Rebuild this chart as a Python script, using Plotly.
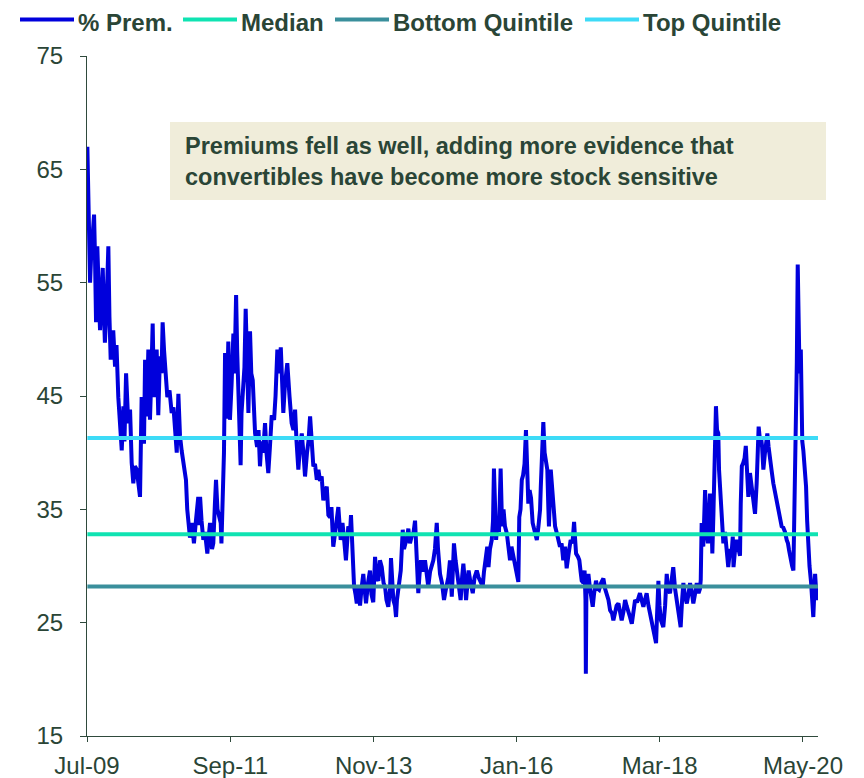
import plotly.graph_objects as go

# ---------------- data ----------------
dates = [
"2009-07-03","2009-07-07","2009-07-12","2009-07-18","2009-07-23","2009-07-31","2009-08-09","2009-08-14","2009-08-20","2009-08-27",
"2009-09-03","2009-09-11","2009-09-19","2009-09-26","2009-10-03","2009-10-08","2009-10-17","2009-10-27","2009-11-02","2009-11-09",
"2009-11-16","2009-11-23","2009-12-03","2009-12-11","2009-12-21","2009-12-30","2010-01-09","2010-01-18","2010-01-24","2010-02-02",
"2010-02-08","2010-02-14","2010-02-24","2010-03-05","2010-03-14","2010-03-23","2010-04-02","2010-04-12","2010-04-20","2010-04-29",
"2010-05-07","2010-05-12","2010-05-18","2010-05-27","2010-06-05","2010-06-14","2010-06-22","2010-06-29","2010-07-06","2010-07-15",
"2010-07-21","2010-07-30","2010-08-08","2010-08-17","2010-08-23","2010-08-31","2010-09-05","2010-09-18","2010-09-30","2010-10-12",
"2010-10-22","2010-10-30","2010-11-09","2010-11-18","2010-11-27","2010-12-06","2010-12-16","2010-12-30","2011-01-06","2011-01-12",
"2011-01-21","2011-02-01","2011-02-12","2011-02-23","2011-03-08","2011-03-12","2011-03-18","2011-03-26","2011-04-05","2011-04-14",
"2011-04-27","2011-05-04","2011-05-12","2011-05-23","2011-05-30","2011-06-08","2011-06-14","2011-06-22","2011-07-01","2011-07-10",
"2011-07-14","2011-07-21","2011-07-28","2011-08-03","2011-08-11","2011-08-21","2011-08-30","2011-09-08","2011-09-18","2011-09-24",
"2011-10-03","2011-10-09","2011-10-15","2011-10-22","2011-10-28","2011-11-02","2011-11-10","2011-11-18","2011-11-25","2011-12-02",
"2011-12-10","2011-12-19","2011-12-26","2012-01-03","2012-01-10","2012-01-16","2012-01-27","2012-02-04","2012-02-12","2012-02-20",
"2012-02-29","2012-03-11","2012-03-19","2012-03-29","2012-04-07","2012-04-17","2012-04-30","2012-05-08","2012-05-18","2012-05-27",
"2012-06-06","2012-06-13","2012-06-20","2012-06-29","2012-07-12","2012-07-24","2012-08-05","2012-08-15","2012-08-24","2012-09-01",
"2012-09-11","2012-09-20","2012-09-30","2012-10-09","2012-10-18","2012-10-29","2012-11-06","2012-11-15","2012-11-23","2012-12-03",
"2012-12-12","2012-12-22","2012-12-31","2013-01-09","2013-01-18","2013-01-27","2013-02-05","2013-02-15","2013-02-24","2013-03-05",
"2013-03-13","2013-03-23","2013-04-02","2013-04-13","2013-04-20","2013-05-03","2013-05-13","2013-05-21","2013-06-01","2013-06-14",
"2013-06-24","2013-06-29","2013-07-07","2013-07-16","2013-07-24","2013-07-31","2013-08-08","2013-08-18","2013-08-26","2013-09-05",
"2013-09-12","2013-09-20","2013-10-01","2013-10-12","2013-10-20","2013-10-30","2013-11-09","2013-11-17","2013-11-27","2013-12-06",
"2013-12-16","2013-12-26","2014-01-03","2014-01-11","2014-01-21","2014-01-31","2014-02-05","2014-02-12","2014-02-18","2014-02-27",
"2014-03-05","2014-03-10","2014-03-18","2014-03-31","2014-04-11","2014-04-18","2014-04-26","2014-05-05","2014-05-12","2014-05-21",
"2014-05-30","2014-06-10","2014-06-18","2014-06-27","2014-07-06","2014-07-13","2014-07-21","2014-08-01","2014-08-12","2014-08-20",
"2014-08-30","2014-09-09","2014-09-17","2014-09-27","2014-10-06","2014-10-16","2014-10-23","2014-11-03","2014-11-14","2014-11-25",
"2014-12-06","2014-12-19","2014-12-28","2015-01-07","2015-01-14","2015-01-19","2015-01-28","2015-02-03","2015-02-13","2015-02-25",
"2015-03-05","2015-03-12","2015-03-21","2015-03-27","2015-04-04","2015-04-10","2015-04-21","2015-05-03","2015-05-13","2015-05-25",
"2015-06-04","2015-06-15","2015-06-27","2015-07-04","2015-07-10","2015-07-22","2015-07-29","2015-08-06","2015-08-16","2015-08-23",
"2015-08-28","2015-09-03","2015-09-09","2015-09-17","2015-09-25","2015-10-04","2015-10-12","2015-10-20","2015-10-28","2015-11-07",
"2015-11-17","2015-11-25","2015-12-03","2015-12-11","2015-12-23","2015-12-31","2016-01-10","2016-01-15","2016-01-22","2016-01-29",
"2016-02-05","2016-02-13","2016-02-21","2016-02-27","2016-03-05","2016-03-12","2016-03-20","2016-03-29","2016-04-08","2016-04-21",
"2016-04-30","2016-05-09","2016-05-13","2016-05-20","2016-05-27","2016-06-03","2016-06-08","2016-06-18","2016-06-24","2016-06-27",
"2016-07-07","2016-07-14","2016-07-22","2016-07-31","2016-08-08","2016-08-16","2016-08-27","2016-09-05","2016-09-14","2016-09-24",
"2016-10-03","2016-10-13","2016-10-25","2016-11-04","2016-11-13","2016-11-18","2016-11-24","2016-12-05","2016-12-12","2016-12-19",
"2016-12-25","2017-01-04","2017-01-10","2017-01-15","2017-01-17","2017-01-20","2017-01-24","2017-01-31","2017-02-09","2017-02-17",
"2017-02-24","2017-03-03","2017-03-14","2017-03-23","2017-03-31","2017-04-11","2017-04-24","2017-05-03","2017-05-12","2017-05-22",
"2017-05-31","2017-06-11","2017-06-18","2017-06-27","2017-07-06","2017-07-16","2017-07-25","2017-08-03","2017-08-13","2017-08-22",
"2017-08-30","2017-09-09","2017-09-18","2017-09-28","2017-10-08","2017-10-16","2017-10-27","2017-11-07","2017-11-12","2017-11-21",
"2017-12-01","2017-12-10","2017-12-19","2017-12-29","2018-01-07","2018-01-15","2018-01-25","2018-02-01","2018-02-09","2018-02-14",
"2018-02-22","2018-02-28","2018-03-08","2018-03-21","2018-03-31","2018-04-09","2018-04-16","2018-04-27","2018-05-06","2018-05-15",
"2018-05-25","2018-06-03","2018-06-13","2018-06-25","2018-07-03","2018-07-10","2018-07-19","2018-07-29","2018-08-07","2018-08-16",
"2018-08-27","2018-09-03","2018-09-12","2018-09-22","2018-10-02","2018-10-10","2018-10-14","2018-10-19","2018-10-28","2018-11-07",
"2018-11-15","2018-11-23","2018-11-29","2018-12-04","2018-12-13","2018-12-17","2018-12-23","2018-12-29","2019-01-06","2019-01-12",
"2019-01-19","2019-01-23","2019-01-29","2019-02-07","2019-02-11","2019-02-16","2019-02-25","2019-03-07","2019-03-15","2019-03-25",
"2019-04-02","2019-04-09","2019-04-13","2019-04-22","2019-05-01","2019-05-11","2019-05-19","2019-05-23","2019-05-29","2019-06-06",
"2019-06-13","2019-06-20","2019-06-27","2019-07-04","2019-07-13","2019-07-22","2019-07-28","2019-08-04","2019-08-10","2019-08-19",
"2019-08-24","2019-08-30","2019-09-07","2019-09-12","2019-09-18","2019-09-25","2019-10-04","2019-10-17","2019-10-24","2019-11-01",
"2019-11-09","2019-11-19","2019-11-29","2019-12-08","2019-12-17","2019-12-26","2020-01-04","2020-01-13","2020-01-23","2020-02-01",
"2020-02-08","2020-02-14","2020-02-22","2020-03-02","2020-03-09","2020-03-13","2020-03-18","2020-03-24","2020-03-28","2020-04-02",
"2020-04-06","2020-04-12","2020-04-19","2020-04-23","2020-04-27","2020-05-03","2020-05-10","2020-05-18","2020-05-24","2020-05-31",
"2020-06-06","2020-06-15","2020-06-20","2020-06-27","2020-07-01","2020-07-07","2020-07-12","2020-07-19","2020-07-23",
]

premium = [
67.0,62.0,58.5,55.0,57.0,58.8,61.0,57.5,51.5,58.2,
54.0,50.8,53.5,56.3,52.0,49.7,53.0,58.2,52.0,48.2,
50.0,50.8,47.6,49.5,44.9,42.5,40.2,44.1,41.0,47.0,
44.5,42.6,43.8,39.1,37.3,38.8,38.5,37.0,36.1,44.9,
42.0,40.8,48.2,43.2,49.1,42.9,47.0,51.4,44.9,47.5,
49.1,43.3,48.5,47.0,51.5,49.0,47.9,44.9,45.5,43.5,
44.0,42.0,40.0,45.2,41.5,40.2,39.0,37.6,35.0,33.8,
32.5,33.8,32.0,34.0,36.1,33.6,36.1,34.0,32.3,33.0,
31.1,32.5,33.8,31.5,32.0,35.5,37.6,35.0,34.5,33.8,
32.0,36.4,40.0,48.8,43.0,49.8,42.9,46.0,50.5,47.0,
53.9,49.0,45.5,43.0,38.9,43.5,45.5,47.5,52.7,47.5,
43.5,50.7,47.0,46.4,43.0,41.7,40.5,42.0,38.8,41.0,
40.0,42.6,40.0,38.2,40.5,43.3,42.9,45.0,49.1,47.0,
49.3,46.0,43.5,46.0,47.9,45.0,42.6,42.0,43.8,41.0,
38.5,40.5,41.7,40.0,37.9,40.0,41.0,43.2,40.5,38.8,
39.0,37.6,38.5,37.5,37.9,35.8,36.5,37.0,34.5,34.3,
35.2,31.7,32.9,34.0,35.2,32.3,33.8,32.5,30.5,33.5,
33.0,34.5,31.7,28.2,27.5,26.7,28.2,26.5,28.0,29.3,
28.0,26.7,28.5,29.6,27.5,26.8,30.8,29.0,28.7,30.5,
29.9,28.5,28.2,27.0,26.4,28.0,30.7,28.5,27.0,26.5,
25.5,27.0,28.2,29.6,33.2,31.5,32.0,32.5,33.3,32.0,
32.6,33.0,34.0,30.8,27.6,29.3,30.5,29.5,30.5,29.5,
28.2,29.5,30.0,30.5,31.5,33.8,31.5,29.3,28.5,27.0,
28.0,29.0,30.5,27.3,30.0,32.0,30.5,29.6,28.5,27.0,
29.0,30.2,28.5,27.0,28.5,29.6,28.5,27.6,29.0,29.6,
29.0,28.5,28.2,29.5,30.2,31.7,29.9,31.5,32.3,34.0,
38.6,35.5,32.3,34.0,33.0,38.6,33.5,35.0,33.5,32.9,
31.5,30.5,31.7,31.0,29.9,29.5,28.6,34.3,35.0,37.6,
38.0,39.0,42.0,39.0,35.5,36.7,36.0,33.8,33.0,32.3,
33.5,35.0,37.0,40.0,42.7,40.0,39.5,38.5,35.0,33.5,
38.5,37.0,35.0,33.5,33.0,32.5,31.7,32.0,30.5,31.7,
29.8,31.0,32.3,32.0,33.9,32.5,31.1,30.8,30.5,29.5,
28.7,28.5,29.6,27.0,20.5,27.5,28.2,29.3,28.0,27.0,
26.4,27.5,28.7,28.0,27.9,28.5,28.9,28.0,27.6,27.0,
26.1,25.8,25.2,26.0,26.5,26.7,26.0,25.2,26.0,27.0,
26.5,25.8,25.5,24.9,26.0,27.0,26.8,27.3,27.6,27.0,
26.4,27.0,27.6,26.5,25.8,25.0,24.6,24.0,23.2,25.5,
28.7,26.5,25.2,24.6,26.5,29.3,28.0,27.6,28.5,29.9,
28.0,27.0,26.0,24.6,27.0,28.5,27.3,26.7,27.5,28.5,
27.5,26.7,27.5,28.5,27.6,28.0,28.8,33.8,31.7,36.7,
33.0,32.0,34.5,36.4,33.5,31.1,34.6,38.0,44.1,42.0,
41.7,38.5,36.7,35.5,34.0,32.0,33.0,31.4,29.9,31.5,
31.0,32.6,29.9,31.5,32.3,31.5,30.9,35.5,38.8,39.1,
39.5,40.6,38.0,36.1,38.2,37.0,35.8,35.0,34.6,37.3,
40.0,42.3,41.0,41.4,40.5,38.5,40.0,41.7,40.5,39.1,
38.5,37.3,36.5,35.5,35.0,34.3,33.5,33.4,33.0,32.3,
32.0,31.4,30.5,30.0,29.6,33.4,37.3,41.4,48.0,56.6,
52.0,47.0,49.1,44.0,41.0,40.2,38.5,37.0,34.0,31.4,
30.0,28.5,27.0,25.5,27.0,29.3,28.0,27.0,27.8,
]

median_level = 32.8
bottom_quintile_level = 28.2
top_quintile_level = 41.3

series_names = ["% Prem.", "Median", "Bottom Quintile", "Top Quintile"]
series_colors = ["#0000DC", "#0FE3B2", "#3A8F9C", "#3DDBF7"]

x_range = ["2009-07-01", "2020-07-23"]
x_tick_dates = ["2009-07-01", "2011-09-01", "2013-11-01", "2016-01-01", "2018-03-01", "2020-05-01"]
x_tick_labels = ["Jul-09", "Sep-11", "Nov-13", "Jan-16", "Mar-18", "May-20"]
y_ticks = [15, 25, 35, 45, 55, 65, 75]

note_text = ("Premiums fell as well, adding more evidence that<br>"
             "convertibles have become more stock sensitive")

# ---------------- layout geometry (pixels of the figure) ----------------
W, H = 856, 770            # page adds an 8px body margin around the figure
ML, MR, MT, MB = 79, 46, 48, 42
PW, PH = W - ML - MR, H - MT - MB


def px(xp):
    return (xp - ML) / PW


def py(yp):
    return (H - MB - yp) / PH


TXT = "#2A4536"
AX = "#2F4A3C"
FONT = "Liberation Sans, Arial, sans-serif"

fig = go.Figure()
fig.add_trace(go.Scatter(x=dates, y=premium, mode="lines", name=series_names[0],
                         line=dict(color=series_colors[0], width=4), showlegend=False))
span = [dates[0], dates[-1]]
levels = [median_level, bottom_quintile_level, top_quintile_level]
for name, color, lvl in zip(series_names[1:], series_colors[1:], levels):
    fig.add_trace(go.Scatter(x=span, y=[lvl, lvl], mode="lines", name=name,
                             line=dict(color=color, width=4), showlegend=False))

fig.update_layout(
    width=W, height=H,
    margin=dict(l=ML, r=MR, t=MT, b=MB, autoexpand=False),
    paper_bgcolor="white", plot_bgcolor="white",
    font=dict(family=FONT, color=TXT),
    showlegend=False,
    xaxis=dict(type="date", range=x_range, tickmode="array",
               tickvals=x_tick_dates, ticktext=x_tick_labels,
               showgrid=False, zeroline=False, showline=True, linecolor=AX, linewidth=1,
               ticks="outside", ticklen=5, tickcolor=AX, tickwidth=1,
               tickfont=dict(size=24, color=TXT, family=FONT), ticklabelstandoff=3),
    yaxis=dict(range=[15, 75], tickmode="array", tickvals=y_ticks,
               showgrid=False, zeroline=False, showline=True, linecolor=AX, linewidth=1,
               ticks="outside", ticklen=6, tickcolor=AX, tickwidth=1,
               tickfont=dict(size=24, color=TXT, family=FONT), ticklabelstandoff=12),
)

# legend drawn along the top (line sample + bold label)
legend_line_x = [12, 175, 327, 577]
legend_line_len = 54
legend_line_y = 11.5
for name, color, lx in zip(series_names, series_colors, legend_line_x):
    fig.add_shape(type="line", xref="paper", yref="paper",
                  x0=px(lx), x1=px(lx + legend_line_len), y0=py(legend_line_y), y1=py(legend_line_y),
                  line=dict(color=color, width=4))
    fig.add_annotation(xref="paper", yref="paper", x=px(lx + legend_line_len + 4), y=py(0.5),
                       xanchor="left", yanchor="top", text=name, showarrow=False,
                       borderpad=0, borderwidth=0,
                       font=dict(size=24, color=TXT, family=FONT, weight="bold"))

# annotation box
fig.add_shape(type="rect", xref="paper", yref="paper",
              x0=px(162), x1=px(818), y0=py(192), y1=py(114),
              fillcolor="#F0EDDA", line=dict(width=0), layer="above")
fig.add_annotation(xref="paper", yref="paper", x=px(175), y=py(153),
                   xanchor="left", yanchor="middle", align="left",
                   text=note_text, showarrow=False,
                   font=dict(size=23.5, color=TXT, family=FONT, weight="bold"))

fig.write_html("out.html")
